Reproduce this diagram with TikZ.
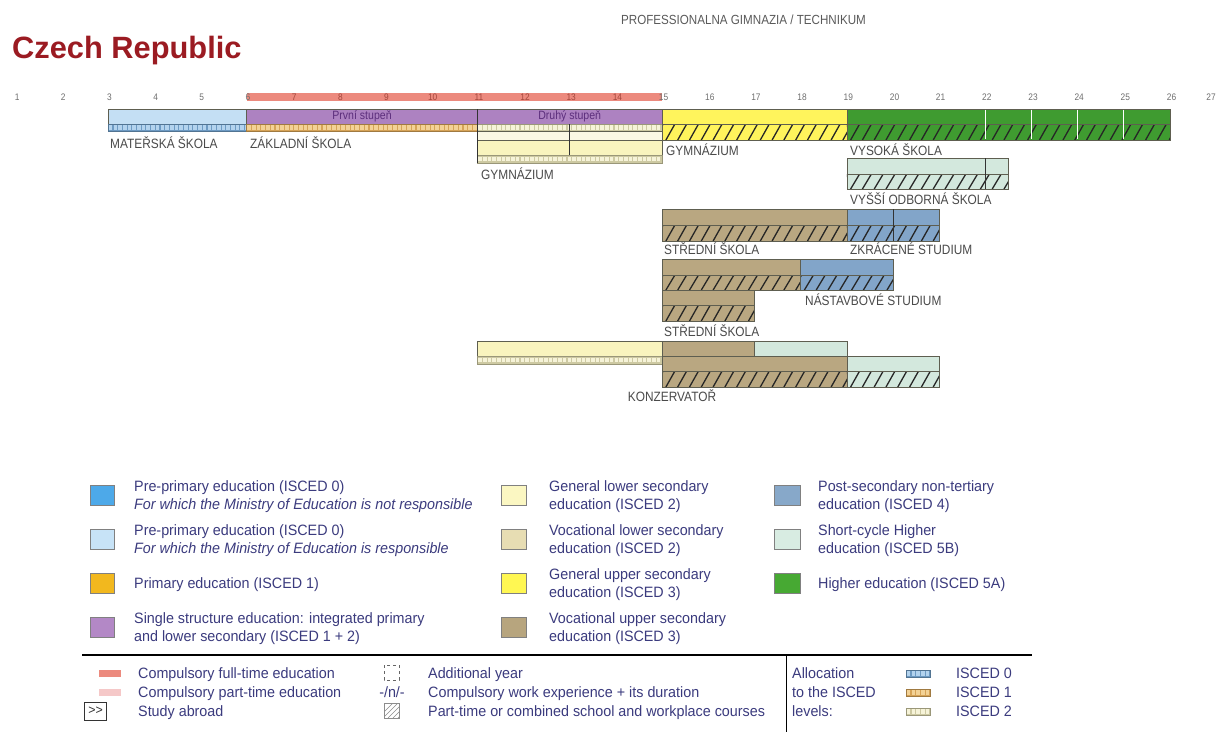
\documentclass[tikz,border=0pt]{standalone}
\usepackage{fontspec}
\setmainfont{Liberation Sans}
\newfontfamily\labf[FakeStretch=0.88]{Liberation Sans}
\newfontfamily\legf[FakeStretch=0.955]{Liberation Sans}
\definecolor{titlered}{HTML}{9B1B22}
\definecolor{hdrgray}{HTML}{5A5A5A}
\definecolor{ticknum}{HTML}{6E6E6E}
\definecolor{tickred}{HTML}{A3473C}
\definecolor{compred}{HTML}{EC8A7E}
\definecolor{comppink}{HTML}{F5C8C8}
\definecolor{preblue}{HTML}{C4DFF4}
\definecolor{purp}{HTML}{AD82C1}
\definecolor{inbartxt}{HTML}{5C2E7C}
\definecolor{isOdark}{HTML}{6D9AC3}
\definecolor{isOlight}{HTML}{B3D3EE}
\definecolor{isIdark}{HTML}{D6A357}
\definecolor{isIlight}{HTML}{F3D296}
\definecolor{isIIdark}{HTML}{CDC9A2}
\definecolor{isIIlight}{HTML}{F6F3D8}
\definecolor{palecream}{HTML}{FBF8E4}
\definecolor{paleyel}{HTML}{F9F4BE}
\definecolor{yel}{HTML}{FFF45C}
\definecolor{grn}{HTML}{3F9B30}
\definecolor{tealfb}{HTML}{D3E8DD}
\definecolor{tanv}{HTML}{B9A781}
\definecolor{bluep}{HTML}{82A5C9}
\definecolor{bdr}{HTML}{5E5E50}
\definecolor{labgray}{HTML}{4A4A4A}
\definecolor{legblue}{HTML}{3B3B7E}
\definecolor{lgA}{HTML}{4DA9E9}
\definecolor{lgB}{HTML}{C7E3F7}
\definecolor{lgC}{HTML}{F2B81E}
\definecolor{lgD}{HTML}{B388C6}
\definecolor{lgE}{HTML}{FBF7C2}
\definecolor{lgF}{HTML}{E7DDB3}
\definecolor{lgG}{HTML}{FFF752}
\definecolor{lgH}{HTML}{B7A57E}
\definecolor{lgI}{HTML}{87A8C9}
\definecolor{lgJ}{HTML}{D8ECE2}
\definecolor{lgK}{HTML}{47A933}
\newcommand{\plainbox}[5]{\filldraw[fill=#5, draw=bdr, line width=0.6pt] (#1,#2) rectangle (#3,#4);}
\newcommand{\hatchbox}[5]{%
  \fill[#5] (#1,#2) rectangle (#3,#4);
  \begin{scope}
    \clip (#1,#2) rectangle (#3,#4);
    \foreach \k in {0,...,30}{\draw[black!85, line width=1.3pt] ({#1-8+\k*11.8},{#4}) -- ({#1+1+\k*11.8},{#2});}
  \end{scope}
  \draw[bdr, line width=0.6pt] (#1,#2) rectangle (#3,#4);}
\newcommand{\iscedstrip}[6]{%
  \fill[#5] (#1,#2) rectangle (#3,#4);
  \draw[#6, line width=4.2pt, dash pattern=on 3.6pt off 1.1pt] ({#1+0.8},{(#2+#4)/2}) -- (#3,{(#2+#4)/2});
  \draw[#5!75!black, line width=0.5pt] (#1,#2) rectangle (#3,#4);}
\tikzset{
  barlabel/.style={anchor=base west, inner sep=0, text=labgray, font=\labf\fontsize{13.5}{15}\selectfont},
  inbar/.style={anchor=center, inner sep=0, text=inbartxt, font=\labf\fontsize{12}{14}\selectfont},
  ticklab/.style={anchor=center, inner sep=0, font=\labf\fontsize{9.5}{11}\selectfont},
  legtext/.style={anchor=base west, inner sep=0, text=legblue, font=\legf\fontsize{15}{18}\selectfont},
  legsq/.style={draw=black!50, line width=0.8pt},
}
\begin{document}
\begin{tikzpicture}[x=1pt,y=-1pt]
\useasboundingbox (0,0) rectangle (1218,732);
\fill[white] (0,0) rectangle (1218,732);
% header and title
\node[anchor=base west, inner sep=0, text=hdrgray, font=\labf\fontsize{13.2}{15}\selectfont] (hdr) at (621,24) {PROFESSIONALNA GIMNAZIA / TECHNIKUM};
\node[anchor=base west, inner sep=0, text=titlered, font=\bfseries\fontsize{30.8}{36}\selectfont] (title) at (12,58) {Czech Republic};
% compulsory band and ages
\fill[compred] (246.5,92.5) rectangle (662.1,100.5);
\foreach \a/\xx in {1/15.7,2/61.8,3/108,4/154.2,5/200.3,6/246.5,15/662.1,16/708.3,17/754.4,18/800.6,19/846.8,20/893.0,21/939.1,22/985.3,23/1031.5,24/1077.7,25/1123.8,26/1170.0}
  \node[ticklab, text=ticknum] (t\a) at ({\xx+1.5},97) {\a};
\node[ticklab, text=ticknum] (t27) at (1211,97) {27};
\foreach \a/\xx in {7/292.7,8/338.9,9/385.0,10/431.2,11/477.4,12/523.6,13/569.7,14/615.9}
  \node[ticklab, text=tickred] (t\a) at ({\xx+1.5},97) {\a};
% row A
\plainbox{108}{109}{246.5}{124}{preblue}
\iscedstrip{108}{124}{246.5}{131}{isOdark}{isOlight}
\plainbox{246.5}{109}{477.4}{124}{purp}
\iscedstrip{246.5}{124}{477.4}{131}{isIdark}{isIlight}
\plainbox{477.4}{109}{662.1}{124}{purp}
\iscedstrip{477.4}{124}{662.1}{131}{isIIdark}{isIIlight}
\node[inbar] (prvni) at (362,116.5) {První stupeň};
\node[inbar] (druhy) at (569.7,116.5) {Druhý stupeň};
% lower gymnazium
\plainbox{477.4}{131}{662.1}{140}{palecream}
\plainbox{477.4}{140}{662.1}{155}{paleyel}
\iscedstrip{477.4}{155}{662.1}{163}{isIIdark}{isIIlight}
\draw[black!80, line width=0.9pt] (569.7,124) -- (569.7,155);
\draw[black!80, line width=0.9pt] (477.4,109) -- (477.4,163);
% upper gymnazium
\plainbox{662.1}{109}{846.8}{124}{yel}
\hatchbox{662.1}{124}{846.8}{140}{yel}
% vysoka skola
\plainbox{846.8}{109}{1170}{124}{grn}
\hatchbox{846.8}{124}{1170}{140}{grn}
\foreach \xx in {985.3,1031.5,1077.7,1123.8} \draw[white, line width=1.3pt] (\xx,109.6) -- (\xx,139.4);
% VOS
\plainbox{846.8}{158}{1008.4}{174}{tealfb}
\hatchbox{846.8}{174}{1008.4}{189}{tealfb}
\draw[black!80, line width=0.8pt] (985.3,158) -- (985.3,189);
% stredni skola + zkracene studium
\plainbox{662.1}{209}{846.8}{225}{tanv}
\hatchbox{662.1}{225}{846.8}{241}{tanv}
\plainbox{846.8}{209}{939.1}{225}{bluep}
\hatchbox{846.8}{225}{939.1}{241}{bluep}
\draw[black!80, line width=0.8pt] (893.0,209) -- (893.0,241);
% stredni skola + nastavbove studium
\plainbox{662.1}{259}{800.6}{275}{tanv}
\hatchbox{662.1}{275}{800.6}{290}{tanv}
\plainbox{800.6}{259}{893.0}{275}{bluep}
\hatchbox{800.6}{275}{893.0}{290}{bluep}
% stredni skola short
\plainbox{662.1}{290}{754.4}{305}{tanv}
\hatchbox{662.1}{305}{754.4}{321}{tanv}
% konzervator
\plainbox{477.4}{341}{662.1}{356}{paleyel}
\iscedstrip{477.4}{356}{662.1}{364}{isIIdark}{isIIlight}
\plainbox{662.1}{341}{754.4}{356}{tanv}
\plainbox{754.4}{341}{846.8}{356}{tealfb}
\plainbox{662.1}{356}{846.8}{371}{tanv}
\hatchbox{662.1}{371}{846.8}{387}{tanv}
\plainbox{846.8}{356}{939.1}{371}{tealfb}
\hatchbox{846.8}{371}{939.1}{387}{tealfb}
% bar labels
\node[barlabel] (lmat) at (110,148.5) {MATEŘSKÁ ŠKOLA};
\node[barlabel] (lzak) at (250,148.5) {ZÁKLADNÍ ŠKOLA};
\node[barlabel] (lgymA) at (666,155.5) {GYMNÁZIUM};
\node[barlabel] (lvys) at (850,155.5) {VYSOKÁ ŠKOLA};
\node[barlabel] (lgymB) at (481,179.5) {GYMNÁZIUM};
\node[barlabel] (lvos) at (850,204.5) {VYŠŠÍ ODBORNÁ ŠKOLA};
\node[barlabel] (lstrA) at (664,254.5) {STŘEDNÍ ŠKOLA};
\node[barlabel] (lzkr) at (850,254.5) {ZKRÁCENÉ STUDIUM};
\node[barlabel] (lnas) at (805,305.5) {NÁSTAVBOVÉ STUDIUM};
\node[barlabel] (lstrB) at (664,336.5) {STŘEDNÍ ŠKOLA};
\node[barlabel, anchor=base] (lkon) at (672,401.5) {KONZERVATOŘ};
% legend column 1
\filldraw[legsq, fill=lgA] (90,485) rectangle (114,505);
\node[legtext] (la1) at (134,491.4) {Pre-primary education (ISCED 0)};
\node[legtext, font=\legf\itshape\fontsize{15}{18}\selectfont] (la2) at (134,509.4) {For which the Ministry of Education is not responsible};
\filldraw[legsq, fill=lgB] (90,529) rectangle (114,549);
\node[legtext] (lb1) at (134,535.4) {Pre-primary education (ISCED 0)};
\node[legtext, font=\legf\itshape\fontsize{15}{18}\selectfont] (lb2) at (134,553.4) {For which the Ministry of Education is responsible};
\filldraw[legsq, fill=lgC] (90,573) rectangle (114,593);
\node[legtext] (lc1) at (134,588.4) {Primary education (ISCED 1)};
\filldraw[legsq, fill=lgD] (90,617) rectangle (114,637);
\node[legtext] (ld1) at (134,623.4) {Single structure education: integrated primary};
\node[legtext] (ld2) at (134,641.4) {and lower secondary (ISCED 1 + 2)};
% legend column 2
\filldraw[legsq, fill=lgE] (501,485) rectangle (526,505);
\node[legtext] (le1) at (549,491.4) {General lower secondary};
\node[legtext] (le2) at (549,509.4) {education (ISCED 2)};
\filldraw[legsq, fill=lgF] (501,529) rectangle (526,549);
\node[legtext] (lf1) at (549,535.4) {Vocational lower secondary};
\node[legtext] (lf2) at (549,553.4) {education (ISCED 2)};
\filldraw[legsq, fill=lgG] (501,573) rectangle (526,593);
\node[legtext] (lg1) at (549,579.4) {General upper secondary};
\node[legtext] (lg2) at (549,597.4) {education (ISCED 3)};
\filldraw[legsq, fill=lgH] (501,617) rectangle (526,637);
\node[legtext] (lh1) at (549,623.4) {Vocational upper secondary};
\node[legtext] (lh2) at (549,641.4) {education (ISCED 3)};
% legend column 3
\filldraw[legsq, fill=lgI] (774,485) rectangle (800,505);
\node[legtext] (li1) at (818,491.4) {Post-secondary non-tertiary};
\node[legtext] (li2) at (818,509.4) {education (ISCED 4)};
\filldraw[legsq, fill=lgJ] (774,529) rectangle (800,549);
\node[legtext] (lj1) at (818,535.4) {Short-cycle Higher};
\node[legtext] (lj2) at (818,553.4) {education (ISCED 5B)};
\filldraw[legsq, fill=lgK] (774,573) rectangle (800,593);
\node[legtext] (lk1) at (818,588.4) {Higher education (ISCED 5A)};
% separators
\draw[black, line width=1.2pt] (82,655) -- (1032,655);
\draw[black, line width=1pt] (786,655) -- (786,732);
% bottom legend
\fill[compred] (99,669.5) rectangle (121,676.5);
\fill[comppink] (99,688.5) rectangle (121,695.5);
\node[draw=black!80, line width=0.8pt, minimum width=22pt, minimum height=18pt, inner sep=0, text=black!80, font=\legf\fontsize{13}{14}\selectfont] (abroad) at (95.5,711) {>>};
\node[legtext] (m1) at (138,678.4) {Compulsory full-time education};
\node[legtext] (m2) at (138,697.4) {Compulsory part-time education};
\node[legtext] (m3) at (138,716.4) {Study abroad};
\draw[black!60, dashed, line width=0.8pt] (384,665) rectangle (399,680);
\node[anchor=base, inner sep=0, text=legblue, font=\legf\fontsize{15}{18}\selectfont] (nwork) at (392,697.4) {-/n/-};
\begin{scope}
  \clip (384,703) rectangle (399,718);
  \foreach \k in {0,...,5}{\draw[black!45, line width=0.6pt] ({378+\k*5},718) -- ({393+\k*5},703);}
\end{scope}
\draw[black!45, line width=0.6pt] (384,703) rectangle (399,718);
\node[legtext] (n1) at (428,678.4) {Additional year};
\node[legtext] (n2) at (428,697.4) {Compulsory work experience + its duration};
\node[legtext] (n3) at (428,716.4) {Part-time or combined school and workplace courses};
\node[legtext] (o1) at (792,678.4) {Allocation};
\node[legtext] (o2) at (792,697.4) {to the ISCED};
\node[legtext] (o3) at (792,716.4) {levels:};
\iscedstrip{906}{670}{930}{677}{isOdark}{isOlight}
\iscedstrip{906}{689}{930}{696}{isIdark}{isIlight}
\iscedstrip{906}{708}{930}{715}{isIIdark}{isIIlight}
\node[legtext] (p1) at (956,678.4) {ISCED 0};
\node[legtext] (p2) at (956,697.4) {ISCED 1};
\node[legtext] (p3) at (956,716.4) {ISCED 2};
\end{tikzpicture}
\end{document}
